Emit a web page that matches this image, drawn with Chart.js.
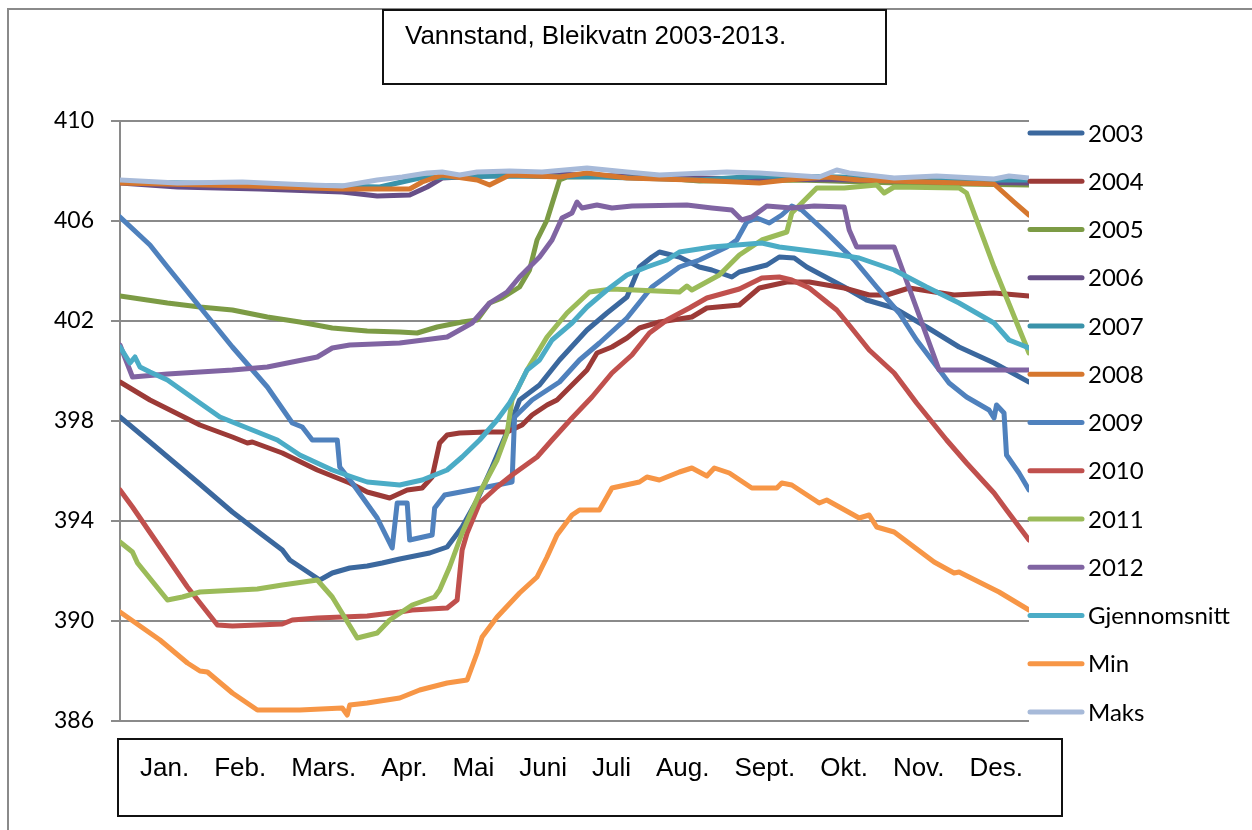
<!DOCTYPE html>
<html lang="no">
<head>
    <meta charset="UTF-8" />
    <title>Vannstand, Bleikvatn 2003-2013.</title>
    <script src="https://cdn.jsdelivr.net/npm/chart.js"></script>
    <style>
        body {
            margin: 0;
            background: #fff;
        }

        canvas {
            display: block;
        }
    </style>
</head>

<body>
    <canvas id="vannstandChart" width="1252" height="830"></canvas>

    <script>
        const tittel = 'Vannstand, Bleikvatn 2003-2013.';
        const maaneder = ['Jan.', 'Feb.', 'Mars.', 'Apr.', 'Mai', 'Juni', 'Juli', 'Aug.', 'Sept.', 'Okt.', 'Nov.', 'Des.'];

        // y-akse (moh)
        const yMin = 386;
        const yMax = 410;
        const yStep = 4;

        const serienavn = ['2003', '2004', '2005', '2006', '2007', '2008', '2009', '2010', '2011', '2012', 'Gjennomsnitt', 'Min', 'Maks'];
        const farger = ['#3b689e', '#9c3a37', '#7c9b45', '#664e87', '#3a93aa', '#d6772e', '#4f81bd', '#c0504d', '#9bbb59', '#8064a2', '#4bacc6', '#f79646', '#a7bad9'];

        // [dag i året, vannstand]
        const v2003 = [[1, 398.16], [13, 397.16], [32, 395.56], [46, 394.36], [57, 393.52], [66, 392.84], [69, 392.44], [81, 391.64], [86, 391.92], [93, 392.12], [100, 392.2], [106, 392.32], [113, 392.48], [125, 392.72], [132, 392.96], [138, 393.76], [144, 394.84], [150, 396.16], [158, 398.04], [161, 398.84], [169, 399.44], [177, 400.44], [188, 401.64], [196, 402.32], [204, 402.96], [209, 404.16], [214, 404.56], [217, 404.76], [225, 404.56], [233, 404.16], [238, 404.04], [246, 403.76], [249, 403.96], [260, 404.24], [265, 404.56], [271, 404.52], [276, 404.16], [291, 403.36], [300, 402.84], [311, 402.52], [324, 401.76], [337, 400.96], [351, 400.32], [365, 399.56]];
        const v2004 = [[1, 399.56], [13, 398.84], [33, 397.84], [46, 397.36], [52, 397.12], [54, 397.16], [66, 396.72], [80, 396.04], [93, 395.52], [100, 395.16], [109, 394.92], [116, 395.24], [122, 395.32], [126, 395.76], [129, 397.12], [132, 397.44], [137, 397.52], [148, 397.56], [156, 397.56], [162, 397.84], [166, 398.24], [172, 398.64], [176, 398.84], [182, 399.44], [188, 400.04], [192, 400.72], [198, 400.96], [204, 401.32], [209, 401.72], [217, 401.96], [230, 402.16], [236, 402.52], [249, 402.64], [257, 403.32], [268, 403.56], [277, 403.56], [291, 403.32], [301, 403.04], [308, 403.04], [317, 403.32], [335, 403.04], [351, 403.12], [365, 403.0]];
        const v2005 = [[1, 403.0], [20, 402.72], [33, 402.56], [46, 402.44], [60, 402.16], [73, 401.96], [86, 401.72], [100, 401.6], [113, 401.56], [120, 401.52], [128, 401.76], [138, 401.96], [144, 402.04], [149, 402.72], [154, 402.92], [161, 403.36], [165, 404.04], [168, 405.24], [172, 406.04], [177, 407.64], [180, 407.76], [209, 407.8], [233, 407.6], [273, 407.64], [313, 407.52], [365, 407.44]];
        const v2006 = [[1, 407.52], [24, 407.36], [57, 407.28], [90, 407.16], [104, 407.0], [117, 407.04], [124, 407.36], [130, 407.72], [145, 407.8], [173, 407.88], [213, 407.76], [253, 407.68], [293, 407.64], [333, 407.56], [365, 407.52]];
        const v2007 = [[1, 407.56], [53, 407.48], [105, 407.36], [121, 407.72], [153, 407.8], [193, 407.76], [233, 407.64], [257, 407.8], [289, 407.76], [333, 407.64], [365, 407.64]];
        const v2008 = [[1, 407.52], [53, 407.4], [90, 407.28], [117, 407.28], [122, 407.56], [130, 407.84], [144, 407.64], [149, 407.44], [157, 407.84], [177, 407.76], [188, 407.92], [204, 407.72], [230, 407.64], [257, 407.52], [268, 407.64], [284, 407.76], [297, 407.64], [324, 407.56], [351, 407.48], [359, 406.76], [365, 406.24]];
        const v2009 = [[1, 406.16], [13, 405.04], [20, 404.16], [33, 402.56], [46, 400.96], [60, 399.36], [70, 397.92], [74, 397.76], [78, 397.24], [88, 397.24], [89, 396.16], [94, 395.52], [104, 394.12], [110, 392.92], [112, 394.72], [116, 394.72], [117, 393.24], [126, 393.44], [127, 394.52], [131, 395.04], [148, 395.36], [158, 395.56], [159, 398.16], [166, 398.84], [177, 399.56], [185, 400.44], [193, 401.12], [204, 402.12], [214, 403.36], [225, 404.16], [233, 404.44], [244, 404.96], [248, 405.24], [252, 405.96], [256, 406.12], [261, 405.92], [266, 406.24], [270, 406.6], [274, 406.44], [284, 405.52], [295, 404.44], [304, 403.36], [313, 402.32], [320, 401.24], [327, 400.32], [333, 399.52], [340, 398.96], [349, 398.44], [351, 398.12], [352, 398.64], [355, 398.32], [356, 396.64], [361, 395.92], [365, 395.24]];
        const v2010 = [[1, 395.24], [6, 394.56], [17, 392.96], [28, 391.36], [40, 389.84], [46, 389.8], [66, 389.88], [70, 390.04], [80, 390.12], [100, 390.2], [113, 390.36], [118, 390.44], [132, 390.52], [136, 390.84], [138, 392.84], [140, 393.52], [145, 394.72], [152, 395.36], [158, 395.84], [168, 396.56], [174, 397.24], [182, 398.12], [190, 398.96], [198, 399.92], [206, 400.64], [213, 401.52], [220, 402.04], [229, 402.52], [236, 402.92], [249, 403.28], [258, 403.72], [265, 403.76], [270, 403.64], [277, 403.32], [288, 402.44], [292, 401.96], [301, 400.84], [311, 399.92], [320, 398.72], [332, 397.24], [340, 396.32], [351, 395.12], [356, 394.44], [365, 393.24]];
        const v2011 = [[1, 393.16], [6, 392.76], [8, 392.32], [20, 390.84], [26, 390.96], [33, 391.16], [56, 391.28], [66, 391.44], [80, 391.64], [86, 390.96], [96, 389.32], [104, 389.52], [109, 390.04], [118, 390.64], [127, 390.96], [129, 391.24], [133, 392.16], [138, 393.52], [145, 395.12], [152, 396.44], [156, 397.52], [158, 398.84], [164, 400.04], [172, 401.36], [180, 402.32], [189, 403.16], [198, 403.28], [225, 403.16], [228, 403.4], [230, 403.24], [241, 403.84], [249, 404.64], [258, 405.24], [268, 405.56], [270, 406.32], [280, 407.32], [291, 407.32], [304, 407.44], [307, 407.12], [311, 407.36], [337, 407.32], [340, 407.12], [351, 404.16], [365, 400.72]];
        const v2012 = [[1, 401.04], [6, 399.76], [20, 399.88], [46, 400.04], [60, 400.16], [80, 400.56], [86, 400.92], [93, 401.04], [113, 401.12], [132, 401.36], [142, 401.92], [149, 402.72], [156, 403.16], [161, 403.76], [169, 404.56], [174, 405.24], [178, 406.12], [182, 406.32], [184, 406.76], [186, 406.52], [192, 406.64], [198, 406.52], [206, 406.6], [228, 406.64], [238, 406.52], [246, 406.44], [250, 406.04], [254, 406.16], [260, 406.6], [270, 406.52], [279, 406.6], [291, 406.56], [293, 405.64], [296, 404.96], [311, 404.96], [329, 400.04], [365, 400.04]];
        const vSnitt = [[1, 400.96], [5, 400.32], [7, 400.56], [9, 400.16], [13, 399.96], [20, 399.64], [33, 398.72], [41, 398.16], [49, 397.84], [56, 397.56], [64, 397.24], [73, 396.64], [86, 396.04], [94, 395.76], [100, 395.56], [113, 395.44], [122, 395.64], [132, 396.04], [138, 396.56], [145, 397.24], [152, 398.04], [157, 398.72], [160, 399.24], [164, 400.04], [169, 400.44], [174, 401.24], [182, 401.92], [188, 402.56], [196, 403.24], [204, 403.84], [212, 404.16], [220, 404.44], [225, 404.76], [238, 404.96], [258, 405.12], [265, 404.96], [284, 404.72], [297, 404.52], [311, 404.04], [324, 403.36], [337, 402.72], [351, 401.92], [357, 401.24], [365, 400.92]];
        const vMin = [[1, 390.36], [17, 389.24], [28, 388.32], [33, 388.0], [36, 387.96], [46, 387.12], [56, 386.44], [73, 386.44], [90, 386.52], [92, 386.24], [93, 386.64], [100, 386.72], [113, 386.92], [121, 387.24], [132, 387.52], [140, 387.64], [144, 388.72], [146, 389.36], [152, 390.16], [161, 391.12], [168, 391.76], [172, 392.56], [176, 393.44], [182, 394.24], [185, 394.44], [193, 394.44], [198, 395.32], [209, 395.56], [212, 395.76], [217, 395.64], [225, 395.96], [230, 396.12], [236, 395.8], [239, 396.12], [245, 395.92], [254, 395.32], [264, 395.32], [266, 395.52], [270, 395.44], [281, 394.72], [284, 394.84], [297, 394.12], [301, 394.24], [304, 393.76], [311, 393.56], [327, 392.36], [335, 391.92], [337, 391.96], [353, 391.16], [365, 390.44]];
        const vMaks = [[1, 407.64], [24, 407.52], [50, 407.56], [77, 407.44], [90, 407.4], [104, 407.64], [114, 407.76], [124, 407.92], [130, 407.96], [137, 407.84], [144, 407.96], [157, 408.0], [170, 407.96], [188, 408.12], [204, 407.96], [217, 407.84], [244, 407.96], [257, 407.92], [281, 407.76], [288, 408.04], [293, 407.92], [311, 407.72], [328, 407.8], [351, 407.68], [357, 407.8], [365, 407.72]];

        const serier = [v2003, v2004, v2005, v2006, v2007, v2008, v2009, v2010, v2011, v2012, vSnitt, vMin, vMaks];

        const tickFont = { family: 'Lato', size: 23 };
        const arialFont = '26px "Liberation Sans", Arial, sans-serif';

        // rammer, tittelboks, månedsboks og forklaring tegnes rundt selve grafen
        const rammePlugin = {
            id: 'ramme',
            beforeDraw(chart) {
                const ctx = chart.ctx;
                ctx.save();
                ctx.strokeStyle = '#8a8a8a';
                ctx.lineWidth = 2;
                ctx.beginPath();
                ctx.moveTo(8, 830);
                ctx.lineTo(8, 9);
                ctx.lineTo(1252, 9);
                ctx.stroke();
                ctx.restore();
            },
            afterDraw(chart) {
                const ctx = chart.ctx;
                ctx.save();

                // tittel
                ctx.fillStyle = '#fff';
                ctx.fillRect(383, 10, 503, 74);
                ctx.strokeStyle = '#111';
                ctx.lineWidth = 2;
                ctx.strokeRect(383, 10, 503, 74);
                ctx.fillStyle = '#000';
                ctx.font = arialFont;
                ctx.textBaseline = 'alphabetic';
                ctx.textAlign = 'left';
                ctx.fillText(tittel, 405, 44);

                // måneder
                ctx.strokeRect(118, 739, 944, 77);
                let x = 140;
                maaneder.forEach(m => {
                    ctx.fillText(m, x, 776);
                    x += ctx.measureText(m).width + 25;
                });

                // forklaring
                ctx.font = '24px Lato, sans-serif';
                ctx.textBaseline = 'middle';
                chart.data.datasets.forEach((ds, i) => {
                    const y = 133 + i * 48.25;
                    ctx.strokeStyle = ds.borderColor;
                    ctx.lineWidth = 5;
                    ctx.lineCap = 'round';
                    ctx.beginPath();
                    ctx.moveTo(1030, y);
                    ctx.lineTo(1082, y);
                    ctx.stroke();
                    ctx.fillStyle = '#000';
                    ctx.fillText(ds.label, 1088, y + 1);
                });

                ctx.restore();
            }
        };

        const ctx = document.getElementById('vannstandChart').getContext('2d');

        new Chart(ctx, {
            type: 'line',
            data: {
                datasets: serier.map((s, i) => ({
                    label: serienavn[i],
                    data: s.map(([d, v]) => ({ x: d, y: v })),
                    borderColor: farger[i],
                    backgroundColor: farger[i],
                    borderWidth: 5,
                    borderJoinStyle: 'round',
                    borderCapStyle: 'round',
                    pointRadius: 0,
                    tension: 0,
                    fill: false,
                    order: serier.length - 1 - i
                }))
            },
            options: {
                responsive: false,
                animation: false,
                devicePixelRatio: 1,
                layout: {
                    padding: { left: 0, top: 121, right: 223, bottom: 109 }
                },
                plugins: {
                    legend: { display: false },
                    title: { display: false },
                    tooltip: { enabled: false }
                },
                scales: {
                    x: {
                        type: 'linear',
                        min: 1,
                        max: 365,
                        display: false
                    },
                    y: {
                        min: yMin,
                        max: yMax,
                        afterFit: scale => { scale.width = 120; },
                        ticks: {
                            stepSize: yStep,
                            color: '#000',
                            font: tickFont,
                            padding: 17
                        },
                        grid: {
                            color: '#8a8a8a',
                            lineWidth: 2,
                            tickLength: 9
                        },
                        border: {
                            color: '#8a8a8a',
                            width: 2
                        }
                    }
                }
            },
            plugins: [rammePlugin]
        });
    </script>
</body>

</html>
